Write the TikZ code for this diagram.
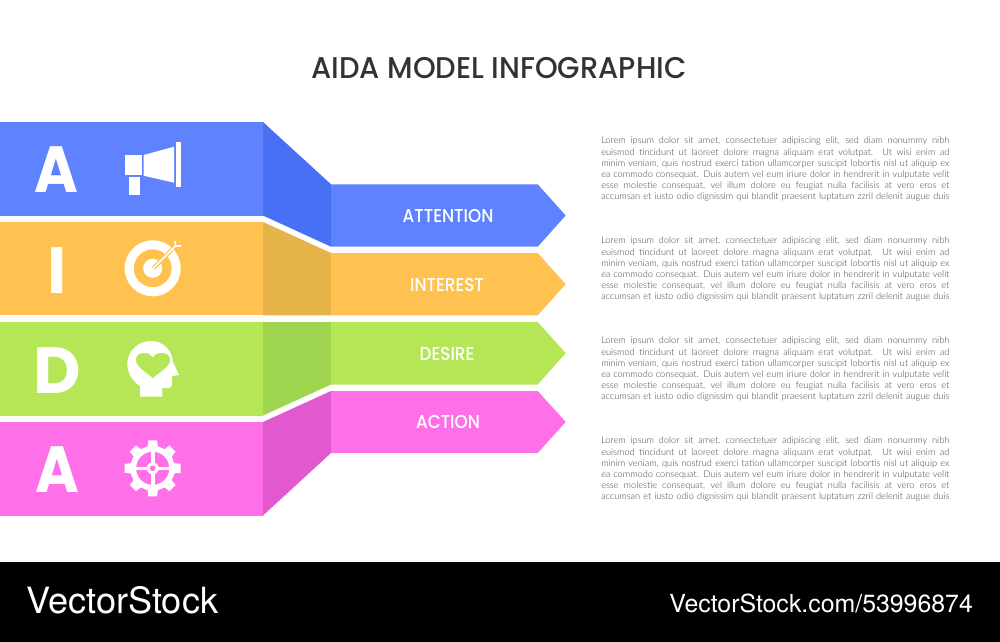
\documentclass[tikz,border=0pt]{standalone}
\usepackage{fontspec}
\usepackage{graphicx}
\setmainfont{Lato}
\newfontfamily\popf{Poppins}
\newfontfamily\popm{Poppins Medium}
\newfontfamily\latof{Lato Light}
\newfontfamily\wmf{TeX Gyre Heros}
\definecolor{cblue}{HTML}{5F82FF}\definecolor{dblue}{HTML}{4870F5}
\definecolor{corange}{HTML}{FFC250}\definecolor{dorange}{HTML}{E5B348}
\definecolor{cgreen}{HTML}{B5E655}\definecolor{dgreen}{HTML}{9FD44E}
\definecolor{cpink}{HTML}{FF70E8}\definecolor{dpink}{HTML}{E258CF}
\definecolor{ctitle}{HTML}{333333}\definecolor{cbody}{HTML}{444444}
\newcommand{\lline}[1]{\hbox to 261pt{#1}}
\newcommand{\loremblock}{\vbox{\latof\fontsize{6.9pt}{8.4pt}\selectfont\color{cbody}\hsize=261pt\parindent=0pt\baselineskip=8.4pt
\lline{Lorem ipsum dolor sit amet, consectetuer adipiscing elit, sed diam nonummy nibh}
\lline{euismod tincidunt ut laoreet dolore magna aliquam erat volutpat. Ut wisi enim ad}
\lline{minim veniam, quis nostrud exerci tation ullamcorper suscipit lobortis nisl ut aliquip ex}
\lline{ea commodo consequat. Duis autem vel eum iriure dolor in hendrerit in vulputate velit}
\lline{esse molestie consequat, vel illum dolore eu feugiat nulla facilisis at vero eros et}
\lline{accumsan et iusto odio dignissim qui blandit praesent luptatum zzril delenit augue duis}}}
\newcommand{\narrow}[1]{\scalebox{0.90}[1]{#1}}
\newcommand{\narrowl}[1]{\scalebox{0.91}[1]{#1}}
\tikzset{
  letter/.style={anchor=base,text=white,font=\popf\bfseries\fontsize{49pt}{49pt}\selectfont,inner sep=0pt},
  banner/.style={anchor=base,text=white,font=\popm\fontsize{14pt}{14pt}\selectfont,inner sep=0pt},
  para/.style={anchor=north west,inner sep=0pt},
  wm/.style={anchor=base west,text=white,inner sep=0pt}
}
\begin{document}
\begin{tikzpicture}[x=0.75pt,y=-0.75pt]
\useasboundingbox (0,0) rectangle (1000,642);
\fill[white] (0,0) rectangle (1000,642);
% bands
\fill[cblue] (0,122) -- (263,122) -- (263,215.5) -- (0,215.5) -- cycle;
\fill[dblue] (263,122) -- (331,184.3) -- (331,246.7) -- (263,215.5) -- cycle;
\fill[cblue] (331,184.3) -- (537.7,184.3) -- (565.7,215.5) -- (537.7,246.7) -- (331,246.7) -- cycle;
\fill[corange] (0,222) -- (263,222) -- (263,315.3) -- (0,315.3) -- cycle;
\fill[dorange] (263,222) -- (331,253) -- (331,315.3) -- (263,315.3) -- cycle;
\fill[corange] (331,253) -- (537.7,253) -- (565.7,284.2) -- (537.7,315.3) -- (331,315.3) -- cycle;
\fill[cgreen] (0,322) -- (263,322) -- (263,415.5) -- (0,415.5) -- cycle;
\fill[dgreen] (263,322) -- (331,322) -- (331,384.5) -- (263,415.5) -- cycle;
\fill[cgreen] (331,322) -- (537.7,322) -- (565.7,353.2) -- (537.7,384.5) -- (331,384.5) -- cycle;
\fill[cpink] (0,422) -- (263,422) -- (263,515.5) -- (0,515.5) -- cycle;
\fill[dpink] (263,422) -- (331,391) -- (331,453) -- (263,515.5) -- cycle;
\fill[cpink] (331,391) -- (537.7,391) -- (565.7,422) -- (537.7,453) -- (331,453) -- cycle;
% title
\node[anchor=base,inner sep=0pt,text=ctitle,font=\popm\fontsize{22.5pt}{24pt}\selectfont] (title) at (499,78.8) {\scalebox{0.965}[1]{AIDA MODEL INFOGRAPHIC}};
% letters
\node[letter] (l1) at (56,192.3) {\narrowl{A}};
\node[letter] (l2) at (57.5,293.3) {I};
\node[letter] (l3) at (57,393.3) {D};
\node[letter] (l4) at (57.5,492) {\narrowl{A}};
% banners
\node[banner] (b1) at (448,222.2) {\narrow{ATTENTION}};
\node[banner] (b2) at (447,291.2) {\narrow{INTEREST}};
\node[banner] (b3) at (447,360.2) {\narrow{DESIRE}};
\node[banner] (b4) at (448,428.5) {\narrow{ACTION}};
% paragraphs
\node[para] (p1) at (601,137) {\loremblock};
\node[para] (p2) at (601,237) {\loremblock};
\node[para] (p3) at (601,337) {\loremblock};
\node[para] (p4) at (601,437) {\loremblock};
% megaphone
\fill[white] (125,155) rectangle (142,175);
\fill[white] (128.7,176.7) rectangle (140,195);
\fill[white] (143.7,155) -- (174,146.7) -- (174,182.7) -- (143.7,175.7) -- cycle;
\fill[white] (175.7,142.3) rectangle (181.3,187.3);
% target
\fill[white,even odd rule] (152.7,268.3) circle[radius=28] (152.7,268.3) circle[radius=19];
\fill[white] (152.7,268.3) circle[radius=9.5];
\draw[corange,line width=3pt] (153.3,268.3) -- (172,249.6);
\draw[white,line width=1.2pt] (153.3,268.3) -- (176,245.5);
\draw[white,line width=1.2pt] (175,241) -- (175.5,246) -- (181,246);
% head
\fill[white] (140,396.7) -- (140,386) .. controls (132,381) and (127.3,372) .. (127.3,364)
  .. controls (127.3,351) and (138,341) .. (151,341) .. controls (163,341) and (172,350) .. (173,362)
  -- (179,375) -- (172,376) -- (172,384) .. controls (172,387) and (171,388) .. (168,388)
  -- (162.3,388) -- (162.3,396.7) -- cycle;
\fill[cgreen] (152.7,378) .. controls (146,372) and (136,367) .. (136,360)
  .. controls (136,355) and (140,353) .. (144.5,353) .. controls (148,353) and (151,354.5) .. (152.7,357.8)
  .. controls (154.4,354.5) and (157.4,353) .. (161.5,353) .. controls (166,353) and (170,355) .. (170,360)
  .. controls (170,367) and (159.4,372) .. (152.7,378) -- cycle;
% gear
\begin{scope}[shift={(152.7,468.3)}]
\fill[white] (-14:22) \foreach \a in {0,45,...,315} {
   -- ({\a-13}:22.5) -- ({\a-9}:28.3) -- ({\a+9}:28.3) -- ({\a+13}:22.5) } -- cycle;
\fill[cpink] (0,0) circle[radius=16.5];
\fill[white] (-17,-1.5) rectangle (17,1.5);
\fill[white] (-1.8,-17) rectangle (1.8,17);
\fill[white] (0,0) circle[radius=6];
\fill[cpink] (0,0) circle[radius=2.8];
\end{scope}
% watermark
\fill[black] (0,562) rectangle (1000,642);
\node[wm,font=\wmf\fontsize{27.1pt}{28pt}\selectfont] (w1) at (26,613.3) {VectorStock};
\node[wm,font=\wmf\fontsize{18.65pt}{20pt}\selectfont] (w2) at (669,612.7) {VectorStock.com/53996874};
\end{tikzpicture}
\end{document}
